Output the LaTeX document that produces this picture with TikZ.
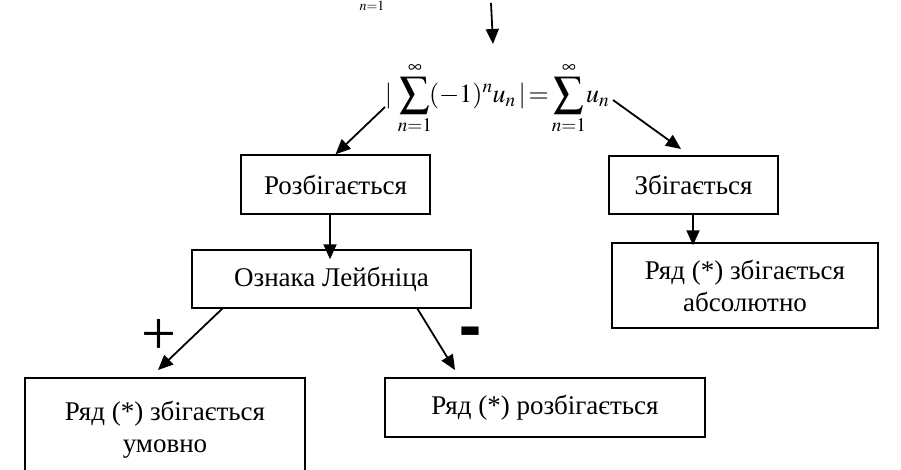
\documentclass[tikz,border=0pt]{standalone}
\usepackage{mathptmx}
\usepackage{fontspec}
\setmainfont{Liberation Serif}
\usetikzlibrary{arrows.meta}
\newcommand{\bigsumop}{\mathop{\vcenter{\hbox{\scalebox{1.15}{$\displaystyle\sum$}}}}\limits_{n=1}^{\infty}}
\begin{document}
\begin{tikzpicture}[x=1pt,y=-1pt,
  box/.style={draw, line width=1.4pt, inner sep=0pt, align=center,
    font=\fontsize{27}{32}\selectfont},
  arr/.style={line width=1.8pt, -{Triangle[length=15pt,width=13pt]}},
  lbl/.style={inner sep=0pt}]
\useasboundingbox (0,0) rectangle (901,470);
\clip (0,0) rectangle (901,470);
% top fragment
\node[lbl, font=\fontsize{14}{14}\selectfont] (frag) at (372,6) {$n{=}1$};
% formula
\node[lbl, font=\fontsize{26}{30}\selectfont] (form) at (497,98)
  {$|\,\bigsumop\!(-1)^n u_n\,|\!=\!\bigsumop\!u_n$};
% boxes
\node[box, minimum width=189pt, minimum height=59pt] (rozb) at (335.5,184.5) {Розбігається};
\node[box, minimum width=169pt, minimum height=58pt] (zbig) at (693.5,185) {Збігається};
\node[box, minimum width=279pt, minimum height=58pt] (lejb) at (331.5,279) {Ознака Лейбніца};
\node[box, minimum width=266pt, minimum height=85pt] (abs) at (745,285.5) {Ряд (*) збігається\\абсолютно};
\node[box, minimum width=280pt, minimum height=104pt] (umov) at (165,430) {Ряд (*) збігається\\умовно};
\node[box, minimum width=320pt, minimum height=59pt] (rozr) at (545,407.5) {Ряд (*) розбігається};
% signs
\node[lbl, font=\fontsize{62}{62}\selectfont] (plus) at (159,337) {+};
\node[lbl, font=\fontsize{66}{66}\selectfont\bfseries, yscale=1.5] (minus) at (470,341) {-};
% arrow end points
\coordinate (t0) at (491,3);
\coordinate (t1) at (493,44);
\coordinate (fl) at (385,107);
\coordinate (fr) at (613,100);
\coordinate (zt) at (681,149);
\coordinate (l1) at (223,308);
\coordinate (l2) at (158,370);
\coordinate (r1) at (417,308);
\coordinate (r2) at (455,370);
% arrows
\draw[arr] (t0) -- (t1);
\draw[arr] (fl) -- (rozb.north);
\draw[arr] (fr) -- (zt);
\draw[arr] (rozb.south -| 330,0) -- ([yshift=-10pt]lejb.north -| 330,0);
\draw[arr] (zbig.south -| 693,0) -- ([yshift=-3pt]abs.north -| 693,0);
\draw[arr] (l1) -- (l2);
\draw[arr] (r1) -- (r2);
\end{tikzpicture}
\end{document}
